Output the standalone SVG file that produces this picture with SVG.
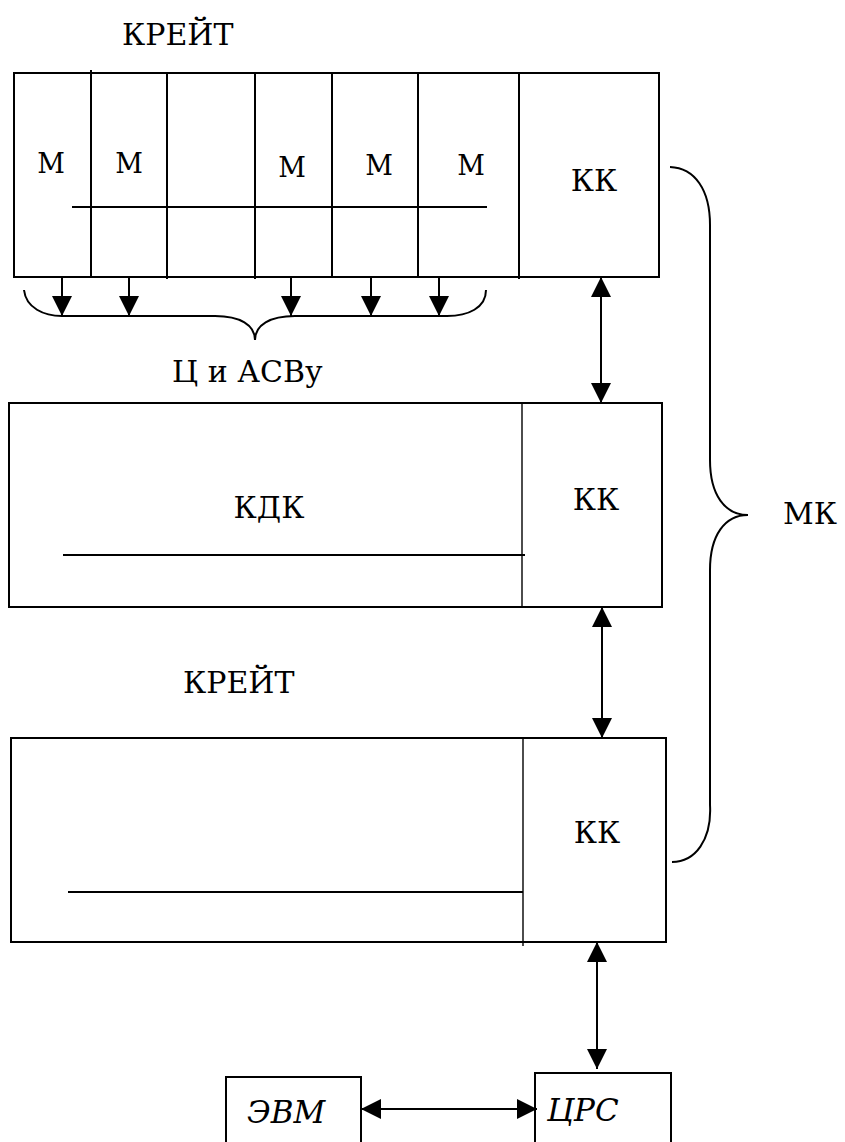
<svg xmlns="http://www.w3.org/2000/svg" width="845" height="1142" viewBox="0 0 845 1142">
<style>
.box{fill:#fff;stroke:#000;stroke-width:2}
.ln{fill:none;stroke:#000;stroke-width:2}
.thin{fill:none;stroke:#000;stroke-width:1.4}
text{font-family:'DejaVu Serif','Liberation Serif',serif;fill:#000}
.t{font-size:30px}
.m{font-size:27px}
.i{font-size:31px;font-style:italic}
</style>
<defs>
<marker id="ah" markerUnits="userSpaceOnUse" markerWidth="20" markerHeight="20" viewBox="0 0 20 20" refX="20" refY="10" orient="auto-start-reverse">
<path d="M0,0 L20,10 L0,20 Z" fill="#000"/>
</marker>
</defs>
<text class="t" x="122" y="45">КРЕЙТ</text>
<g id="crate1">
<rect class="box" x="14" y="73" width="645" height="204"/>
<line class="ln" x1="91" y1="70" x2="91" y2="277"/>
<line class="ln" x1="167" y1="73" x2="167" y2="279"/>
<line class="ln" x1="255" y1="73" x2="255" y2="279"/>
<line class="ln" x1="332" y1="73" x2="332" y2="277"/>
<line class="ln" x1="418" y1="73" x2="418" y2="277"/>
<line class="ln" x1="519" y1="73" x2="519" y2="279"/>
<line class="ln" x1="72" y1="207" x2="487" y2="207"/>
<text class="m" x="51" y="173" text-anchor="middle">М</text>
<text class="m" x="129" y="173" text-anchor="middle">М</text>
<text class="m" x="292" y="177" text-anchor="middle">М</text>
<text class="m" x="379" y="175" text-anchor="middle">М</text>
<text class="m" x="471" y="175" text-anchor="middle">М</text>
<text class="t" x="594" y="191" text-anchor="middle">КК</text>
</g>
<text class="t" x="172" y="382">Ц и АСВу</text>
<g id="crate2">
<rect class="box" x="9" y="403" width="653" height="204"/>
<line class="thin" x1="522" y1="403" x2="522" y2="607"/>
<line class="ln" x1="63" y1="555" x2="525" y2="555"/>
<text class="t" x="269" y="518" text-anchor="middle">КДК</text>
<text class="t" x="596" y="510" text-anchor="middle">КК</text>
</g>
<text class="t" x="183" y="693">КРЕЙТ</text>
<g id="crate3">
<rect class="box" x="11" y="738" width="655" height="204"/>
<line class="thin" x1="523" y1="738" x2="523" y2="946"/>
<line class="ln" x1="68" y1="892" x2="523" y2="892"/>
<text class="t" x="597" y="843" text-anchor="middle">КК</text>
</g>
<g id="evm">
<rect class="box" x="226" y="1077" width="135" height="80"/>
<text class="i" x="247" y="1123">ЭВМ</text>
</g>
<g id="crs">
<rect class="box" x="535" y="1073" width="136" height="84"/>
<text class="i" x="547" y="1121">ЦРС</text>
</g>
<text class="t" x="783" y="524">МК</text>
<g id="connectors">
<line class="ln" x1="62" y1="277" x2="62" y2="316" marker-end="url(#ah)"/>
<line class="ln" x1="129" y1="277" x2="129" y2="316" marker-end="url(#ah)"/>
<line class="ln" x1="291" y1="277" x2="291" y2="316" marker-end="url(#ah)"/>
<line class="ln" x1="371" y1="277" x2="371" y2="316" marker-end="url(#ah)"/>
<line class="ln" x1="439" y1="277" x2="439" y2="316" marker-end="url(#ah)"/>
<path class="ln" d="M24,290 C26,308 44,316 62,316 L215,316 C240,316 255,325 255,340 C255,325 270,316 295,316 L447,316 C468,316 486,308 486,290"/>
<line class="ln" x1="601" y1="277" x2="601" y2="403" marker-start="url(#ah)" marker-end="url(#ah)"/>
<line class="ln" x1="602" y1="607" x2="602" y2="738" marker-start="url(#ah)" marker-end="url(#ah)"/>
<line class="ln" x1="597" y1="942" x2="597" y2="1069" marker-start="url(#ah)" marker-end="url(#ah)"/>
<line class="ln" x1="361" y1="1109" x2="537" y2="1109" marker-start="url(#ah)" marker-end="url(#ah)"/>
<path class="ln" d="M670,167 C695,168 710,190 710,225 L710,460 C710,495 725,515 748,515 C725,515 710,535 710,570 L710,805 C712,840 695,862 672,862"/>
</g>
</svg>
